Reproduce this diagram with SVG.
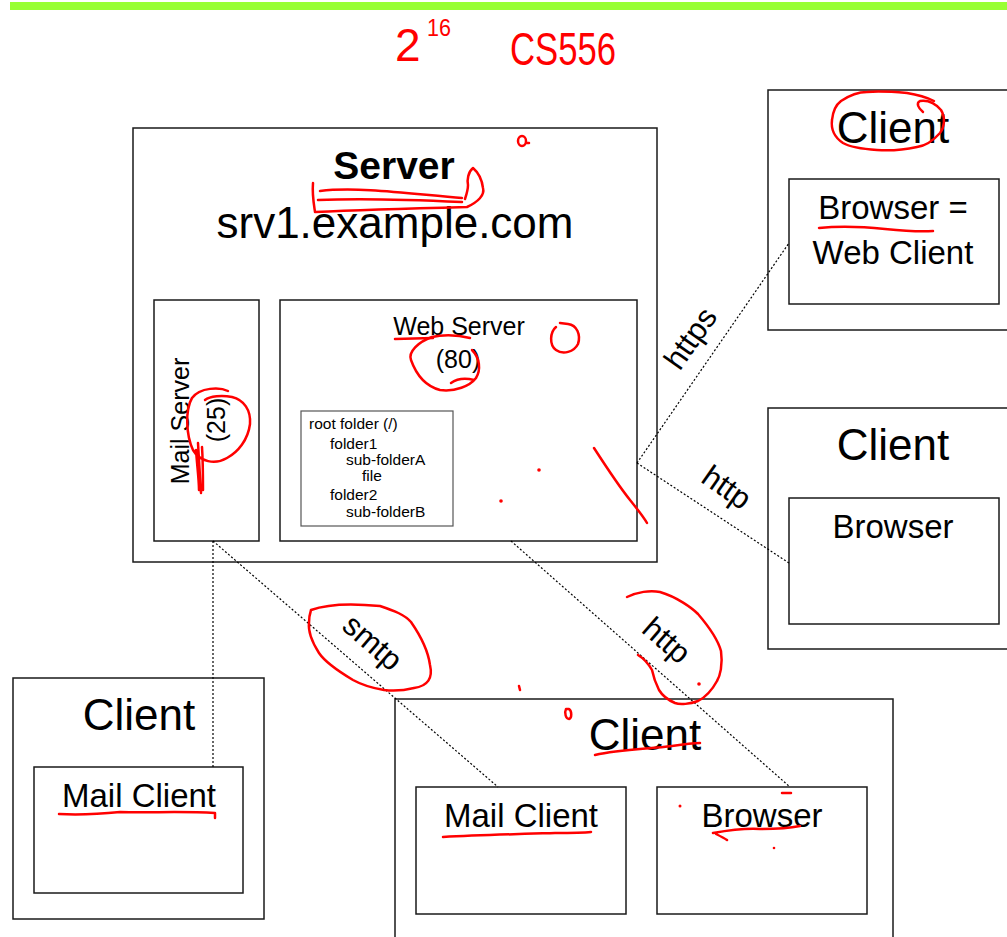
<svg xmlns="http://www.w3.org/2000/svg" width="1007" height="937" viewBox="0 0 1007 937">
<style>
.box{fill:#fff;stroke:#1a1a1a;stroke-width:1.5}
.fbox{fill:#fff;stroke:#555;stroke-width:1.2}
.t{font-family:"Liberation Sans",Arial,sans-serif;fill:#000}
.c{text-anchor:middle}
.f{font-size:15.5px}
.conn{fill:none;stroke:#000;stroke-width:1.2;stroke-dasharray:2,2}
.red{fill:none;stroke:#ff0000;stroke-width:2.5;stroke-linecap:round;stroke-linejoin:round}
.redt{font-family:"Liberation Sans",Arial,sans-serif;fill:#ff0000}
</style>
<rect x="0" y="0" width="1007" height="937" fill="#fff"/>
<rect x="10" y="2" width="997" height="8" fill="#99ff33"/>

<g id="server">
<rect class="box" x="133" y="128" width="524" height="434"/>
<text class="t c" x="394" y="179" font-size="39" font-weight="bold">Server</text>
<text class="t c" x="395" y="238" font-size="44">srv1.example.com</text>
</g>
<g id="mail-server">
<rect class="box" x="154" y="300" width="105" height="241"/>
<text class="t c" font-size="25" transform="translate(189,421) rotate(-90)">Mail Server</text>
<text class="t c" font-size="25" transform="translate(225,420) rotate(-90)">(25)</text>
</g>
<g id="web-server">
<rect class="box" x="280" y="300" width="357" height="241"/>
<text class="t c" x="459" y="335" font-size="25">Web Server</text>
<text class="t c" x="458" y="368" font-size="25">(80)</text>
</g>
<g id="root-folder">
<rect class="fbox" x="301" y="411" width="152" height="115"/>
<text class="t f" x="309" y="429">root folder (/)</text>
<text class="t f" x="330" y="449">folder1</text>
<text class="t f" x="346" y="465">sub-folderA</text>
<text class="t f" x="362" y="481">file</text>
<text class="t f" x="330" y="500">folder2</text>
<text class="t f" x="346" y="517">sub-folderB</text>
</g>

<g id="client-web">
<rect class="box" x="768" y="90" width="245" height="240"/>
<text class="t c" x="893" y="143" font-size="44">Client</text>
<rect class="box" x="789" y="179" width="210" height="125"/>
<text class="t c" x="893" y="219" font-size="33">Browser =</text>
<text class="t c" x="893" y="264" font-size="33">Web Client</text>
</g>
<g id="client-browser">
<rect class="box" x="768" y="408" width="245" height="241"/>
<text class="t c" x="893" y="460" font-size="44">Client</text>
<rect class="box" x="789" y="498" width="210" height="126"/>
<text class="t c" x="893" y="538" font-size="33">Browser</text>
</g>
<g id="client-mail">
<rect class="box" x="13" y="678" width="251" height="241"/>
<text class="t c" x="139" y="730" font-size="44">Client</text>
<rect class="box" x="34" y="767" width="209" height="126"/>
<text class="t c" x="139" y="807" font-size="33">Mail Client</text>
</g>
<g id="client-both">
<rect class="box" x="395" y="699" width="498" height="245"/>
<text class="t c" x="645" y="750" font-size="44">Client</text>
<g id="client-both-mail">
<rect class="box" x="416" y="787" width="210" height="127"/>
<text class="t c" x="521" y="827" font-size="33">Mail Client</text>
</g>
<g id="client-both-browser">
<rect class="box" x="657" y="787" width="210" height="127"/>
<text class="t c" x="762" y="827" font-size="33">Browser</text>
</g>
</g>

<g id="connectors">
<path class="conn" d="M637,463 L789,243"/>
<path class="conn" d="M637,463 L789,563"/>
<path class="conn" d="M213,541 L213,767"/>
<path class="conn" d="M213,541 L498,787"/>
<path class="conn" d="M511,541 L790,787"/>
<text class="t c" font-size="31" transform="translate(690,338) rotate(-55)" dy="11">https</text>
<text class="t c" font-size="31" transform="translate(727,487) rotate(35)" dy="11">http</text>
<text class="t c" font-size="31" transform="translate(373,642) rotate(41)" dy="11">smtp</text>
<text class="t c" font-size="31" transform="translate(667,640) rotate(41)" dy="11">http</text>
</g>

<g id="annotations">
<text class="redt" x="395" y="61" font-size="46">2</text>
<text class="redt" x="427" y="36" font-size="24" textLength="24" lengthAdjust="spacingAndGlyphs">16</text>
<text class="redt" x="510" y="65" font-size="46" textLength="106" lengthAdjust="spacingAndGlyphs">CS556</text>
<path class="red" d="M518,141 a4,5 0 1,0 8,0 a4,5 0 1,0 -8,0 M526,143 l3,0" stroke-width="3"/>
<path class="red" d="M320,191 C360,186 420,195 462,198 M313,183 C312,195 314,205 315,212 C360,210 430,208 467,207 C478,202 485,195 483,188 C482,180 480,174 473,168 C468,172 467,180 468,185 C468,190 466,196 465,199 M318,200 C360,198 420,200 462,202"/>
<path class="red" d="M395,339 L433,338" stroke-width="4"/>
<path class="red" d="M470,338 C455,334 440,335 432,337 C418,342 408,352 411,360 C416,374 425,386 440,390 C455,392 470,386 476,378 C481,370 480,358 472,350 M451,383 C458,378 466,378 474,380"/>
<path class="red" d="M556,327 C550,332 549,345 556,350 C563,355 574,352 578,344 C581,335 577,325 568,324 L560,323"/>
<path class="red" d="M228,391 C220,387 200,387 192,398 C185,410 186,435 193,450 C200,462 215,465 227,458 C238,452 248,440 250,424 C251,410 244,400 232,397 C222,395 210,396 205,400 M198,443 C199,460 200,478 201,493 M202,447 C203,462 203,478 203,490 M196,450 C197,465 199,480 199,490"/>
<path class="red" d="M594,448 C605,465 618,485 630,500 C638,510 643,516 647,523"/>
<circle cx="539" cy="470" r="1.8" fill="#f00"/>
<circle cx="501" cy="501" r="1.8" fill="#f00"/>
<path class="red" d="M311,610 C330,603 360,604 380,606 C395,611 405,615 411,622 C420,635 428,650 430,665 C433,678 428,686 414,688 C402,691 392,691 384,690 C372,688 362,685 353,680 C338,671 325,662 319,653 C312,642 308,632 309,623 C309,617 310,613 311,610"/>
<path class="red" d="M627,597 C637,592 650,590 660,592 C677,597 692,608 698,614 C710,628 718,640 721,651 C723,665 720,676 717,681 C711,692 704,698 698,701 C690,704 680,705 675,703 C668,700 662,695 659,690 C655,682 653,675 652,670 C648,663 643,658 638,655"/>
<circle cx="699" cy="684" r="1.8" fill="#f00"/>
<path class="red" d="M519,686 l1,4" stroke-width="2"/>
<path class="red" d="M566,709 C564,713 566,719 569,719 C572,718 572,711 569,709 Z" stroke-width="3"/>
<path class="red" d="M595,755 C620,749 650,749 672,746 C685,744 695,743 700,743" stroke-width="4"/>
<path class="red" d="M59,814 C80,815 100,814 120,812 C150,813 180,811 215,813 L215,818" stroke-width="3"/>
<path class="red" d="M443,837 C480,835 520,834 555,833 C570,833 582,833 591,832" stroke-width="4"/>
<path class="red" d="M713,833 C730,830 745,828 760,829 C775,829 790,828 800,826 M716,834 C720,836 724,838 727,840" stroke-width="3.5"/>
<circle cx="680" cy="806" r="1.5" fill="#f00"/>
<circle cx="774" cy="848" r="1.3" fill="#f00"/>
<path class="red" d="M782,793 L791,793" stroke-width="3"/>
<path class="red" d="M923,112 C918,108 916,103 920,101 C927,100 935,103 941,110 C946,118 944,128 940,133 C932,142 925,146 917,147 C903,150 890,151 877,150 C862,149 850,147 843,143 C834,137 831,128 832,120 C833,110 837,104 841,101 C850,95 858,92 867,92 C880,91 895,92 907,93 C920,95 928,98 934,101" stroke-width="2"/>
<path class="red" d="M819,228 C840,226 865,227 885,229 C905,231 920,232 933,231" stroke-width="2"/>
</g>
</svg>
